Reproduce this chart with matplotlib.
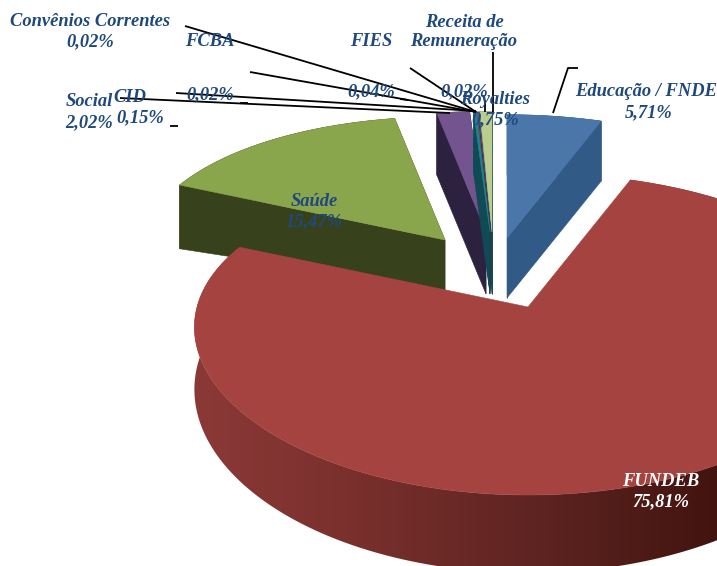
"""
Exploded 3D pie: revenue shares (FUNDEB, Saude, ...)
"""
import numpy as np
import matplotlib.pyplot as plt
from matplotlib.colors import to_rgb
from matplotlib.patches import Polygon

names = ['Educação / FNDE', 'FUNDEB', 'Saúde', 'Social', 'CID',
         'Convênios Correntes', 'FCBA', 'FIES', 'Receita de\nRemuneração', 'Royalties']
values = [5.71, 75.81, 15.47, 2.02, 0.15, 0.02, 0.02, 0.04, 0.02, 0.75]

top_colors = ['#4a76a9', '#a54341', '#8aa64c', '#74548f', '#1f8496',
              '#a5724a', '#5f7fb0', '#a5524f', '#8b6fa8', '#b8cd8e']
side_colors = ['#315a87', '#7c302e', '#37411c', '#2d2140', '#0f4a55',
               '#6e3f1c', '#2c4464', '#5a2a28', '#3a2d4a', '#1d4a4e']

# where each exploded slice has its tip in the picture, and its scale
apex_x = [507, 528, 445, 486, 490, 490, 490, 490, 491, 492]
apex_y = [238, 307, 240, 232, 232, 232, 232, 232, 232, 232]
scale = [0.92, 1.0, 0.92, 0.9, 0.9, 0.9, 0.9, 0.9, 0.9, 0.9]
depth0 = [60, 60, 50, 62, 62, 62, 62, 62, 62, 62]
depth_u = [0, 0, 15, 0, 0, 0, 0, 0, 0, 0]
depth_v = [0, 18, 0, 0, 0, 0, 0, 0, 0, 0]
draw_order = [2, 0, 3, 9, 8, 7, 6, 5, 4, 1]

# wall shading of the big slice, left to right
wall_x = [195, 350, 550, 717]
wall_colors = ['#8b3937', '#7a302d', '#5c2320', '#42140f']

# label centres (name, percentage)
name_pos = [(646, 91), (661, 482), (314, 202), (89, 101), (130, 97),
            (90, 21), (210, 42), (371, 41), (464, 32), (495, 100)]
pct_pos = [(649, 113), (661, 502), (314, 222), (89, 123), (140, 118),
           (90, 42), (210, 95), (371, 92), (464, 92), (495, 120)]

leaders = [
    [(578, 68), (568, 68), (553, 113)],
    [(185, 26), (476, 112)],
    [(250, 72), (476, 112)],
    [(176, 93), (476, 111)],
    [(120, 98), (450, 113)],
    [(410, 68), (476, 112)],
    [(493, 52), (493, 112)],
    [(485, 100), (485, 112)],
    [(170, 126), (178, 126)],
    [(240, 103), (248, 103)],
    [(400, 99), (408, 100)],
]


def project(i, t):
    u, v = np.cos(t), np.sin(t)
    x = apex_x[i] + scale[i] * u * (331 - 42 * v)
    y = apex_y[i] - scale[i] * (161 * v - 27 * v ** 2)
    d = depth0[i] - depth_u[i] * u - depth_v[i] * v
    return x, y, d


fig = plt.figure(figsize=(7.17, 5.66), dpi=100)
ax = fig.add_axes([0, 0, 1, 1])

# slice angles, clockwise from twelve o'clock
shares = np.array(values) / sum(values) * 2 * np.pi
ends = np.pi / 2 - np.cumsum(shares)
starts = ends + shares

# colours for the wall gradient of FUNDEB
grad_x = np.arange(150, 900)
wall_rgb = np.array([to_rgb(c) for c in wall_colors])
grad = np.stack([np.interp(grad_x, wall_x, wall_rgb[:, k]) for k in range(3)], axis=-1)[None, :, :]

for i in draw_order:
    n = max(int(shares[i] * 60), 2) + 1
    t = np.linspace(starts[i], ends[i], n)
    x, y, d = project(i, t)
    thin = values[i] < 0.1
    lw = 0.05 if thin else 0.4

    # outer wall
    wall = list(zip(x, y)) + list(zip(x[::-1], (y + d)[::-1]))
    if i == 1:
        patch = Polygon(wall, facecolor='none', edgecolor='none', zorder=1)
        ax.add_patch(patch)
        im = ax.imshow(grad, extent=(grad_x[0], grad_x[-1], 566, 0), aspect='auto', zorder=1)
        im.set_clip_path(patch)
    else:
        ax.add_patch(Polygon(wall, facecolor=side_colors[i], edgecolor=side_colors[i],
                             lw=lw, zorder=1))

        # radial faces
        tip = (apex_x[i], apex_y[i])
        for k in (0, -1):
            face = [tip, (x[k], y[k]), (x[k], y[k] + d[k]), (tip[0], tip[1] + depth0[i])]
            ax.add_patch(Polygon(face, facecolor=side_colors[i], edgecolor=side_colors[i],
                                 lw=lw, zorder=1))

    # top face
    top = list(zip(x, y)) + [(apex_x[i], apex_y[i])]
    ax.add_patch(Polygon(top, facecolor=top_colors[i], edgecolor=top_colors[i],
                         lw=lw, zorder=1))

for pts in leaders:
    ax.plot([p[0] for p in pts], [p[1] for p in pts], color='black', lw=1.3,
            solid_capstyle='butt', zorder=3)

for i, name in enumerate(names):
    color = 'white' if i == 1 else '#1f497d'
    style = dict(family='Liberation Serif', fontsize=13.3, fontweight='bold', fontstyle='italic',
                 color=color, ha='center', va='center', zorder=4)
    ax.text(*name_pos[i], name, linespacing=1.1, **style)
    ax.text(*pct_pos[i], f'{values[i]:.2f}%'.replace('.', ','), **style)

ax.set_xlim(0, 717)
ax.set_ylim(566, 0)
ax.axis('off')

plt.savefig('out.png', dpi=100)
